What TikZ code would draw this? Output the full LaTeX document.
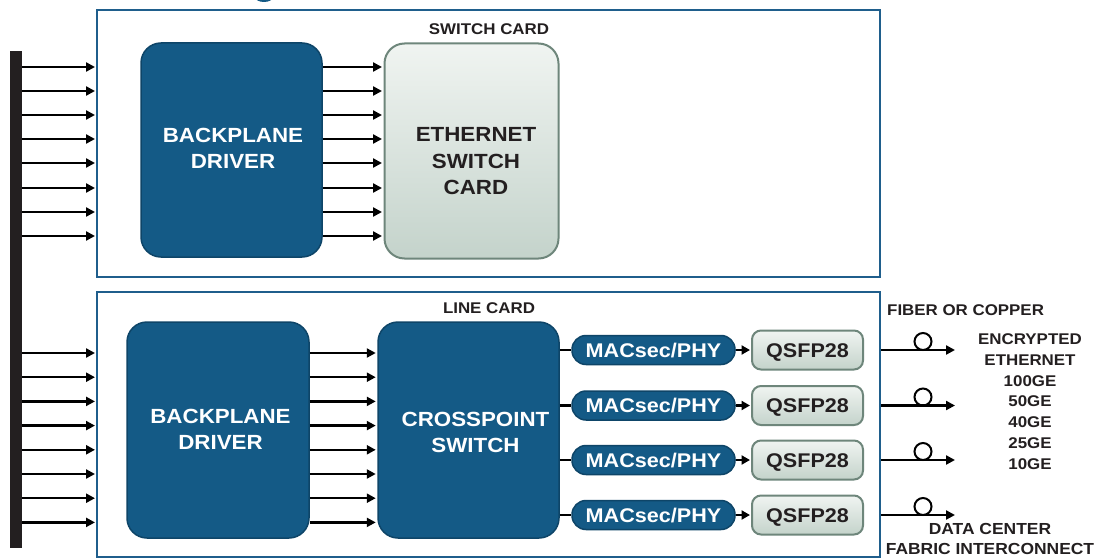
\documentclass[tikz,border=0pt]{standalone}
\usepackage{fontspec}
\setmainfont{Liberation Sans}[FakeStretch=1.09]
\usetikzlibrary{arrows.meta}
\definecolor{cardblue}{HTML}{1F5E8C}
\definecolor{boxblue}{HTML}{145A86}
\definecolor{boxedge}{HTML}{0E4568}
\definecolor{greytop}{HTML}{F0F4F1}
\definecolor{greybot}{HTML}{C4D3CB}
\definecolor{greyedge}{HTML}{6E867B}
\definecolor{ink}{HTML}{231F20}

\begin{document}
\begin{tikzpicture}[x=1pt,y=-1pt,
  card/.style={draw=cardblue, line width=2pt, fill=white, inner sep=0pt},
  bluebox/.style={draw=boxedge, line width=1.5pt, fill=boxblue, rounded corners=20pt, inner sep=0pt},
  greybox/.style={draw=greyedge, line width=2pt, top color=greytop, bottom color=greybot, rounded corners=20pt, inner sep=0pt},
  pill/.style={draw=boxedge, line width=1.5pt, fill=boxblue, rounded corners=14pt,
    minimum width=163pt, minimum height=29pt, inner sep=0pt, text=white,
    text height=14.2pt, text depth=0pt,
    font=\bfseries\fontsize{19.8}{22}\selectfont},
  qsfp/.style={draw=greyedge, line width=2pt, top color=greytop, bottom color=greybot, rounded corners=9pt,
    minimum width=111pt, minimum height=39pt, inner sep=0pt, text=ink,
    text height=14.2pt, text depth=0pt,
    font=\bfseries\fontsize{19.8}{22}\selectfont},
  bigwhite/.style={text=white, font=\bfseries\fontsize{20.5}{26}\selectfont, align=center, inner sep=0pt},
  bigdark/.style={text=ink, font=\bfseries\fontsize{20.5}{26.5}\selectfont, align=center, inner sep=0pt},
  lbl/.style={text=ink, font=\bfseries\fontsize{15.5}{20.8}\selectfont, align=center, inner sep=0pt},
  arr/.style={line width=2.4pt, draw=black, -{Triangle[length=9pt,width=9pt]}},
  sarr/.style={line width=2.2pt, draw=black, -{Triangle[length=8.5pt,width=9pt]}},
  wire/.style={line width=2.2pt, draw=black},
  loop/.style={line width=2pt, draw=black}
]
\useasboundingbox (0,0) rectangle (1097,559);
\fill[white] (0,0) rectangle (1097,559);

% tail of a glyph above the drawing area
\fill[boxblue] (264,-3) ellipse [x radius=9pt, y radius=5pt];

% backplane bar
\node[fill=ink, minimum width=12pt, minimum height=497pt, inner sep=0pt] (bar) at (16,299.5) {};

% the two cards
\node[card, minimum width=783pt, minimum height=267pt] (sw) at (488.5,143.5) {};
\node[card, minimum width=783pt, minimum height=265pt] (lc) at (488.5,424.5) {};
\node[lbl] (swlbl) at (489,29) {SWITCH CARD};
\node[lbl] (lclbl) at (489,308) {LINE CARD};

% switch card contents
\node[bluebox, minimum width=181pt, minimum height=214pt] (bd1) at (231.5,150) {};
\node[bigwhite] (bd1t) at (233,148) {BACKPLANE\\DRIVER};
\node[greybox, minimum width=174pt, minimum height=215pt] (esc) at (471.5,151) {};
\node[bigdark] (esct) at (476,161.5) {ETHERNET\\SWITCH\\CARD};

% line card contents
\node[bluebox, minimum width=182pt, minimum height=216pt] (bd2) at (218,430) {};
\node[bigwhite] (bd2t) at (220.5,429) {BACKPLANE\\DRIVER};
\node[bluebox, minimum width=181pt, minimum height=216pt] (xp) at (468.5,430) {};
\node[bigwhite] (xpt) at (475.5,432) {CROSSPOINT\\SWITCH};

\foreach \i/\y in {1/350,2/405.5,3/460,4/515}{
  \node[pill] (mac\i) at (653.5,\y) {MACsec/PHY};
  \node[qsfp] (q\i) at (807.5,\y) {QSFP28};
  \coordinate (out\i) at (955,\y);
  \draw[wire] (xp.east |- mac\i.west) -- (mac\i.west);
  \draw[sarr, shorten >=1pt] (mac\i.east) -- (q\i.west);
  \draw[arr] (lc.east |- out\i) -- (out\i);
  \draw[loop] (923,\y-8.5) circle [radius=8.5pt];
}

% backplane lanes into the switch card
\foreach \y in {67,91,115,139,163,188,212,236}{
  \draw[arr, shorten >=1pt] (bar.east |- 0,\y) -- (sw.west |- 0,\y);
  \draw[arr, shorten >=1.5pt] (bd1.east |- 0,\y) -- (esc.west |- 0,\y);
}
% backplane lanes into the line card
\foreach \y in {353,377.2,401.4,425.6,449.8,474,498.2,522.4}{
  \draw[arr, shorten >=1pt] (bar.east |- 0,\y) -- (lc.west |- 0,\y);
  \draw[arr, shorten >=1.5pt] (bd2.east |- 0,\y) -- (xp.west |- 0,\y);
}

% media labels
\node[lbl, anchor=west] (media) at (887,310) {FIBER OR COPPER};
\node[lbl] (rates) at (1030,401.5) {ENCRYPTED\\ETHERNET\\100GE\\50GE\\40GE\\25GE\\10GE};
\node[lbl, font=\bfseries\fontsize{16}{20}\selectfont] (dc) at (990,539) {DATA CENTER\\FABRIC INTERCONNECT};
\end{tikzpicture}
\end{document}
